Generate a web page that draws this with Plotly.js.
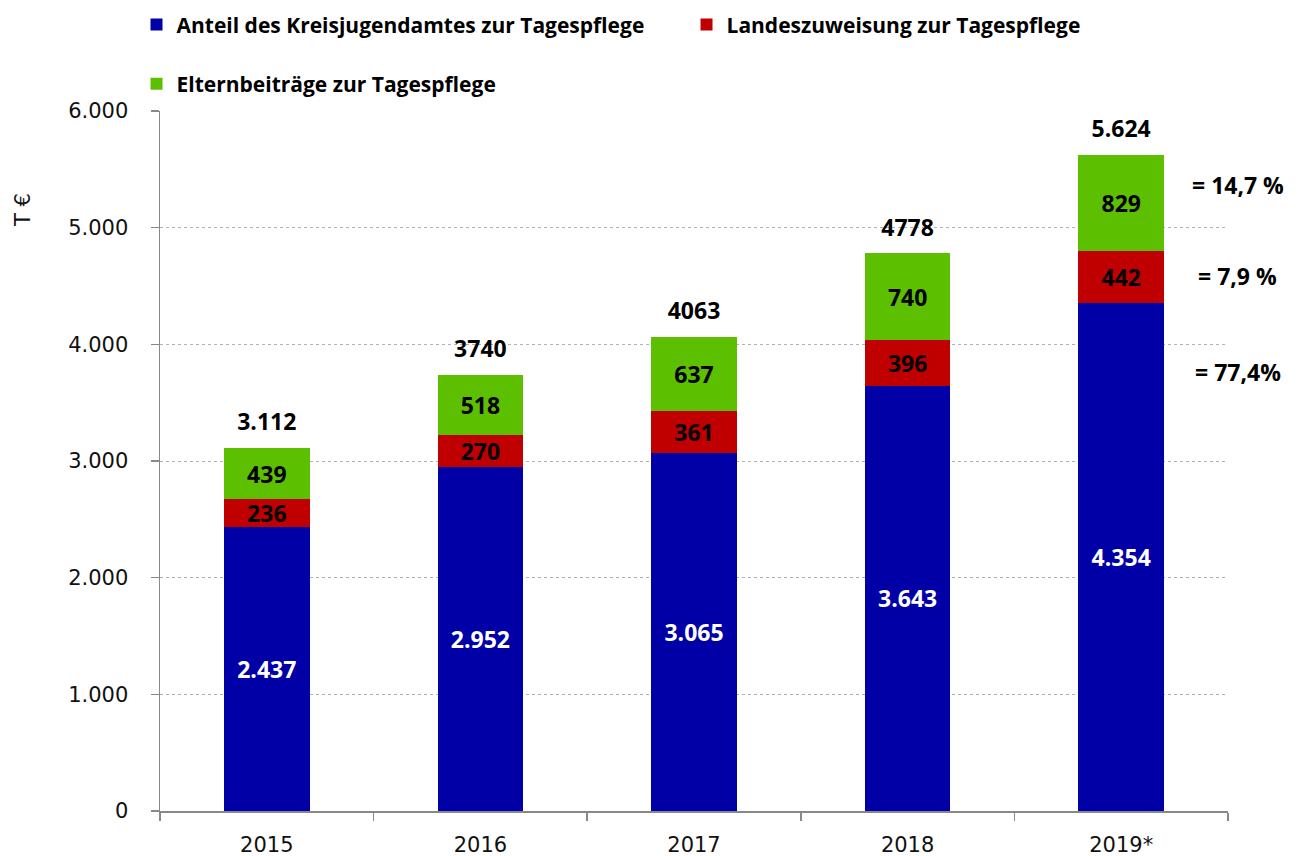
<!DOCTYPE html>
<html>
<head>
<meta charset="utf-8">
<script src="https://cdn.plot.ly/plotly-3.0.1.min.js"></script>
<style>html,body{margin:0;padding:0;background:#fff;}#chart{width:1299px;height:856px;}</style>
</head>
<body>
<div id="chart"></div>
<script>
// ---- data ----
var years = ["2015", "2016", "2017", "2018", "2019*"];
var kreisjugendamt = [2437, 2952, 3065, 3643, 4354];
var landeszuweisung = [236, 270, 361, 396, 442];
var elternbeitraege = [439, 518, 637, 740, 829];
var totalValues = [3112, 3740, 4063, 4778, 5624];
var totalLabels = ["3.112", "3740", "4063", "4778", "5.624"];
var shareLabels = ["= 77,4%", "= 7,9 %", "= 14,7 %"];
var shareYValues = [3763, 4586, 5366];
var seriesNames = ["Anteil des Kreisjugendamtes zur Tagespflege", "Landeszuweisung zur Tagespflege", "Elternbeiträge zur Tagespflege"];

var BOLDFAM = "'Open Sans', Lato, sans-serif";

function barTrace(vals, name, color, txtColor, legend) {
  return {
    type: "bar", x: years, y: vals, name: name,
    marker: {color: color, line: {width: 0}},
    texttemplate: "%{y:,.0f}", textposition: "inside", insidetextanchor: "middle",
    constraintext: "none", textangle: 0,
    textfont: {family: BOLDFAM, size: 23, weight: 700, color: txtColor},
    legend: legend
  };
}

var data = [
  barTrace(kreisjugendamt, seriesNames[0], "#0000A6", "#ffffff", "legend"),
  barTrace(landeszuweisung, seriesNames[1], "#C00000", "#000000", "legend2"),
  barTrace(elternbeitraege, seriesNames[2], "#5CBF00", "#000000", "legend3"),
  {type: "scatter", mode: "markers+text", x: years, y: totalValues, text: totalLabels,
   textposition: "top center", showlegend: false, cliponaxis: false,
   marker: {size: 18, color: "rgba(0,0,0,0)"},
   textfont: {family: BOLDFAM, size: 23, weight: 700, color: "#000"}}
];

var annotations = [];
for (var j = 0; j < shareLabels.length; j++) {
  annotations.push({x: 1.009, xref: "paper", y: shareYValues[j], yref: "y", text: shareLabels[j],
    showarrow: false, xanchor: "center", yanchor: "middle",
    font: {family: BOLDFAM, size: 23, weight: 700, color: "#000"}});
}
annotations.push({x: -0.129, xref: "paper", y: 0.859, yref: "paper", text: "T €", textangle: -90,
  showarrow: false, xanchor: "center", yanchor: "middle",
  font: {family: "'DejaVu Sans', sans-serif", size: 21, color: "#111"}});

var legFont = {family: BOLDFAM, size: 21, weight: 700, color: "#000"};
var layout = {
  width: 1299, height: 856,
  margin: {l: 160, r: 71, t: 111, b: 45, autoexpand: false},
  paper_bgcolor: "#fff", plot_bgcolor: "#fff",
  separators: ",.",
  font: {family: "'DejaVu Sans', sans-serif", size: 21, color: "#111"},
  barmode: "stack", bargap: 0.6,
  showlegend: true,
  legend: {orientation: "h", x: -0.022, xanchor: "left", y: 1.1229, yanchor: "middle",
    font: legFont, bgcolor: "rgba(0,0,0,0)"},
  legend2: {orientation: "h", x: 0.493, xanchor: "left", y: 1.1229, yanchor: "middle",
    font: legFont, bgcolor: "rgba(0,0,0,0)"},
  legend3: {orientation: "h", x: -0.022, xanchor: "left", y: 1.0386, yanchor: "middle",
    font: legFont, bgcolor: "rgba(0,0,0,0)"},
  xaxis: {type: "category", tickson: "boundaries", ticks: "outside", ticklen: 8, tickcolor: "#888", tickwidth: 1.5,
    showline: true, linecolor: "#888", linewidth: 1.5, showgrid: false, tickangle: 0, ticklabelstandoff: 14,
    tickfont: {family: "'DejaVu Sans', sans-serif", size: 21, color: "#111"}},
  yaxis: {range: [0, 6000], dtick: 1000, tick0: 0, tickformat: ",d", ticks: "outside", ticklen: 8,
    tickcolor: "#888", tickwidth: 1.5, showline: true, linecolor: "#888", linewidth: 1.5, ticklabelstandoff: 18,
    showgrid: true, gridcolor: "#b0b0b0", griddash: "dot", gridwidth: 1, zeroline: false,
    tickfont: {family: "'DejaVu Sans', sans-serif", size: 21, color: "#111"}},
  annotations: annotations
};

Plotly.newPlot("chart", data, layout, {displayModeBar: false, staticPlot: true});
</script>
</body>
</html>
